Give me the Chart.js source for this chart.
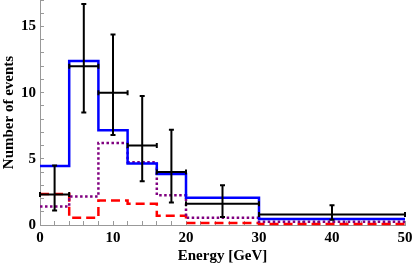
<!DOCTYPE html>
<html>
<head>
<meta charset="utf-8">
<script src="https://cdn.jsdelivr.net/npm/chart.js@4/dist/chart.umd.min.js"></script>
<style>
  html, body { margin: 0; padding: 0; background: #fff; }
  #wrap { width: 413px; height: 266px; }
</style>
</head>
<body>
<div id="wrap"><canvas id="c"></canvas></div>
<script>
// bin edges in GeV
const binEdges = [0, 4, 8, 12, 16, 20, 30, 50];

// histogram heights per bin (events)
const totalExpected = [4.45, 12.4, 7.15, 4.65, 3.85, 2.05, 0.45];
const dottedComponent = [1.4, 2.15, 6.2, 4.75, 2.25, 0.55, 0.25];
const dashedComponent = [2.35, 0.55, 1.85, 1.6, 0.7, 0.15, 0.08];

// measured points with errors
const dataCenters = [2, 6, 10, 14, 18, 25, 40];
const dataCounts = [2.3, 12.0, 10.0, 6.0, 4.0, 1.6, 0.8];
const dataLow = [1.1, 8.5, 6.8, 3.3, 1.7, 0.6, 0.4];
const dataHigh = [4.5, 16.7, 14.4, 9.75, 7.2, 3.0, 1.5];

const serif = "'Liberation Serif', 'Times New Roman', serif";

function steps(values) {
    const pts = values.map((v, i) => ({ x: binEdges[i], y: v }));
    pts.push({ x: binEdges[binEdges.length - 1], y: values[values.length - 1] });
    return pts;
}

const errorBars = {
    id: "errorBars",
    afterDatasetsDraw(chart) {
        const ctx = chart.ctx;
        const xs = chart.scales.x;
        const ys = chart.scales.y;
        const cap = 2.5;
        ctx.save();
        ctx.strokeStyle = "#000";
        ctx.lineWidth = 2;
        dataCenters.forEach((c, i) => {
            const px = xs.getPixelForValue(c);
            const py = ys.getPixelForValue(dataCounts[i]);
            const x0 = xs.getPixelForValue(binEdges[i]);
            const x1 = xs.getPixelForValue(binEdges[i + 1]);
            const yl = ys.getPixelForValue(dataLow[i]);
            const yh = ys.getPixelForValue(dataHigh[i]);
            ctx.beginPath();
            ctx.moveTo(x0, py); ctx.lineTo(x1, py);
            ctx.moveTo(x0, py - cap); ctx.lineTo(x0, py + cap);
            ctx.moveTo(x1, py - cap); ctx.lineTo(x1, py + cap);
            ctx.moveTo(px, yl); ctx.lineTo(px, yh);
            ctx.moveTo(px - cap, yl); ctx.lineTo(px + cap, yl);
            ctx.moveTo(px - cap, yh); ctx.lineTo(px + cap, yh);
            ctx.stroke();
        });
        ctx.restore();
    },
};

new Chart(document.getElementById("c"), {
    type: "line",
    plugins: [errorBars],
    options: {
        animation: false,
        responsive: true,
        maintainAspectRatio: false,
        layout: { padding: { top: 0, right: 8, left: 0, bottom: 0 } },
        elements: { point: { radius: 0 } },
        plugins: {
            legend: { display: false },
            tooltip: { enabled: false },
        },
        scales: {
            x: {
                type: "linear",
                min: 0,
                max: 50,
                afterFit: (s) => {
                    s.height = 41;
                    s.paddingLeft = 0;
                    s.paddingRight = 0;
                },
                border: { display: true, color: "#999", width: 1 },
                grid: {
                    drawOnChartArea: false,
                    drawTicks: true,
                    tickLength: -4,
                    tickColor: "#999",
                },
                ticks: {
                    stepSize: 2,
                    autoSkip: false,
                    maxRotation: 0,
                    padding: 8,
                    color: "#000",
                    font: { family: serif, size: 15, weight: "bold" },
                    callback: (v) => (v % 10 === 0 ? v : ""),
                },
                title: {
                    display: true,
                    text: "Energy [GeV]",
                    color: "#000",
                    font: { family: serif, size: 15, weight: "bold" },
                    padding: { top: 0, bottom: 1 },
                },
            },
            y: {
                min: 0,
                max: 17,
                afterFit: (s) => {
                    s.width = 40;
                    s.paddingTop = 0;
                    s.paddingBottom = 0;
                },
                border: { display: true, color: "#999", width: 1 },
                grid: {
                    drawOnChartArea: false,
                    drawTicks: true,
                    tickLength: -4,
                    tickColor: "#999",
                },
                ticks: {
                    stepSize: 1,
                    autoSkip: false,
                    padding: 8,
                    color: "#000",
                    font: { family: serif, size: 15, weight: "bold" },
                    callback: (v) => (v % 5 === 0 ? v : ""),
                },
                title: {
                    display: true,
                    text: "Number of events",
                    color: "#000",
                    font: { family: serif, size: 15, weight: "bold" },
                    padding: { top: 0, bottom: 0 },
                },
            },
        },
    },
    data: {
        datasets: [
            {
                label: "total",
                data: steps(totalExpected),
                stepped: true,
                borderColor: "#0000ff",
                borderWidth: 2.5,
                fill: false,
                clip: false,
            },
            {
                label: "dotted",
                data: steps(dottedComponent),
                stepped: true,
                borderColor: "#800080",
                borderWidth: 2.5,
                borderDash: [2.5, 2.5],
                fill: false,
                clip: false,
            },
            {
                label: "dashed",
                data: steps(dashedComponent),
                stepped: true,
                borderColor: "#ff0000",
                borderWidth: 2.5,
                borderDash: [9, 5],
                fill: false,
                clip: false,
            },
        ],
    },
});
</script>
</body>
</html>
